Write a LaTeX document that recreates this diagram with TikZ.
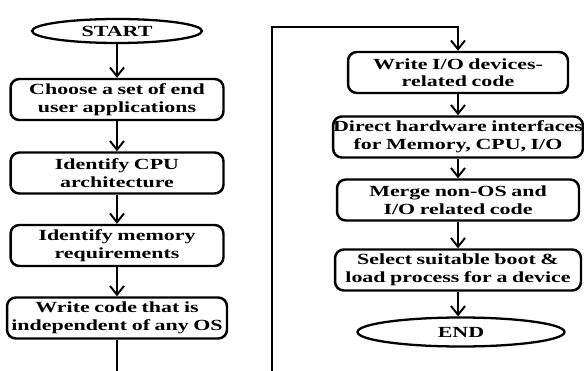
\documentclass[tikz,border=0pt]{standalone}
\usepackage{fontspec}
\setmainfont{Liberation Serif}[FakeStretch=1.42]
\usetikzlibrary{shapes.geometric, arrows.meta, positioning}
\newcommand{\boxfont}{\bfseries\fontsize{8.8}{10}\selectfont\spaceskip=2.6pt plus 1pt\relax}
\tikzset{
    terminal/.style={ellipse, draw=black, line width=1.3pt, inner sep=0pt, font=\boxfont},
    process/.style={rectangle, rounded corners=5pt, draw=black, line width=1.4pt, inner xsep=0pt, inner ysep=1pt, minimum height=0.82cm, align=center, font=\boxfont},
    arrow/.style={line width=1.1pt, -{Straight Barb[length=5pt, width=8pt, line width=1.1pt]}}
}

\begin{document}
\begin{tikzpicture}[x=0.02cm, y=-0.02cm]
        \useasboundingbox (0,0) rectangle (584,371);
        % Left column
        \node (start) [terminal, minimum width=3.4cm, minimum height=0.48cm] at (117,31) {START};
        \node (apps) [process, minimum width=4.26cm] at (117,99.5) {Choose a set of end\\user applications};
        \node (cpu) [process, minimum width=4.26cm] at (117,173) {Identify CPU\\architecture};
        \node (mem) [process, minimum width=4.26cm] at (117,245.5) {Identify memory\\requirements};
        \node (code) [process, minimum width=4.4cm] at (117,318) {Write code that is\\independent of any OS};
        \coordinate (lend) at (117,371);

        % Right column
        \node (iocode) [process, minimum width=4.4cm] at (458,72.5) {Write I/O devices-\\related code};
        \node (hw) [process, minimum width=4.96cm] at (458,137) {Direct hardware interfaces\\for Memory, CPU, I/O};
        \node (merge) [process, minimum width=4.84cm] at (458,200) {Merge non-OS and\\I/O related code};
        \node (boot) [process, minimum width=4.92cm] at (458,270) {Select suitable boot \&\\load process for a device};
        \node (finish) [terminal, minimum width=4.14cm, minimum height=0.58cm] at (461,332) {END};
        \coordinate (rbot) at (272,371);
        \coordinate (rtop) at (272,27);

        % Connections
        \draw[arrow] (start) -- (apps);
        \draw[arrow] (apps) -- (cpu);
        \draw[arrow] (cpu) -- (mem);
        \draw[arrow] (mem) -- (code);
        \draw[line width=1.1pt] (code) -- (lend);
        \draw[arrow] (rbot) -- (rtop) -| (iocode);
        \draw[arrow] (iocode) -- (hw);
        \draw[arrow] (hw) -- (merge);
        \draw[arrow] (merge) -- (boot);
        \draw[arrow] (boot) -- (boot |- finish.north);
    \end{tikzpicture}
\end{document}
